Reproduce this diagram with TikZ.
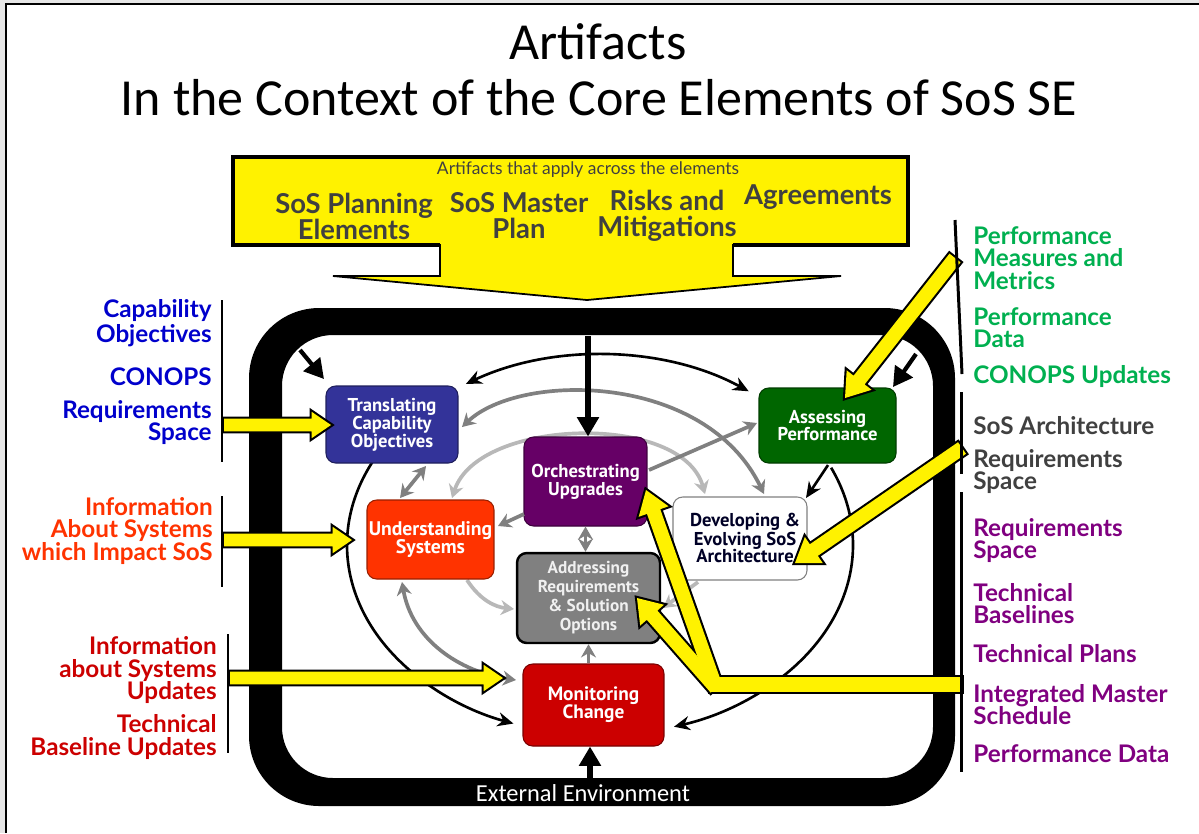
\documentclass[tikz,border=0pt]{standalone}
\usepackage{fontspec}
\setmainfont{Carlito}
\newfontfamily\lblfont{Lato}
\newfontfamily\boxfont{PT Sans}
\usetikzlibrary{calc,arrows.meta}
\definecolor{outgray}{HTML}{E6E6E6}
\definecolor{bantext}{HTML}{404040}
\definecolor{cblue}{HTML}{0000CC}
\definecolor{corange}{HTML}{FF3300}
\definecolor{cred}{HTML}{CC0000}
\definecolor{cgreen}{HTML}{00B050}
\definecolor{cgrey}{HTML}{404040}
\definecolor{cpurple}{HTML}{800080}
\definecolor{ftrans}{HTML}{333399}
\definecolor{fassess}{HTML}{006600}
\definecolor{forch}{HTML}{660066}
\definecolor{funder}{HTML}{FF3300}
\definecolor{faddr}{HTML}{808080}
\definecolor{fmon}{HTML}{CC0000}
\definecolor{gmid}{HTML}{808080}
\definecolor{glight}{HTML}{B8B8B8}
\newcommand\yarrow[6]{%
  \coordinate (yh) at ($(#3)!#6!(#2)$);
  \path[#1] ($(#2)!#4!90:(#3)$) -- ($(yh)!#4!90:(#3)$) -- ($(yh)!#5!90:(#3)$) -- (#3)
     -- ($(yh)!#5!-90:(#3)$) -- ($(yh)!#4!-90:(#3)$) -- ($(#2)!#4!-90:(#3)$) -- cycle;}
\newcommand\allyellow[1]{%
  \yarrow{#1}{yl1}{yl1t}{3.6pt}{7.5pt}{11pt}
  \yarrow{#1}{yl2}{yl2t}{3.6pt}{7.5pt}{11pt}
  \yarrow{#1}{yl3}{yl3t}{3.6pt}{7.5pt}{11pt}
  \yarrow{#1}{yr1}{yr1t}{4pt}{9pt}{13pt}
  \yarrow{#1}{yr2}{yr2t}{4pt}{9pt}{13pt}
  \path[#1] (710,-677) rectangle (962,-692);
  \yarrow{#1}{yj}{yj1t}{4pt}{9pt}{13pt}
  \yarrow{#1}{yj}{yj2t}{4pt}{9pt}{13pt}}
\begin{document}
\begin{tikzpicture}[x=0.02cm,y=0.02cm,
  yout/.style={draw=black,line width=2.4pt,line join=miter},
  yfill/.style={fill=yellow},
  boxbase/.style={rounded corners=5.5pt,align=center,inner sep=0pt,text=white,line width=0.6pt,
    font=\boxfont\bfseries\fontsize{10.6}{10.2}\selectfont},
  lbl/.style={inner sep=0pt,font=\lblfont\bfseries\fontsize{13.8}{12.8}\selectfont},
  lblL/.style={lbl,anchor=east,align=right},
  lblR/.style={lbl,anchor=west,align=left},
  bant/.style={inner sep=0pt,align=center,text=bantext,font=\lblfont\bfseries\fontsize{15.6}{14.8}\selectfont},
  blk/.style={line width=1.5pt,-{Stealth[length=9pt,width=8pt]}},
  thick arrow/.style={line width=2.4pt,-{Triangle[length=11pt,width=12pt]}},
  gm/.style={draw=gmid,line width=2.1pt,-{Stealth[length=7.5pt,width=8.5pt]}},
  gl/.style={draw=glight,line width=2.1pt,-{Stealth[length=7.5pt,width=8.5pt]}},
  bracket/.style={line width=1.7pt}]
\useasboundingbox (0,0) rectangle (1199,-833);
\fill[outgray] (0,0) rectangle (1199,-833);
\fill[white] (5,-3) rectangle (1199,-833);
\draw[line width=1.6pt] (6,-833) -- (6,-4) -- (1199,-4);
% title
\node[inner sep=0pt,font=\fontsize{29.6}{32}\selectfont] (t1) at (598,-42) {Artifacts};
\node[inner sep=0pt,font=\fontsize{29.6}{32}\selectfont] (t2) at (599,-98) {In the Context of the Core Elements of SoS SE};
% banner
\filldraw[fill=yellow,draw=black,line width=1pt] (233,-157) -- (908,-157) -- (908,-245) -- (733,-245) -- (733,-276)
  -- (841,-276) -- (587,-300) -- (333,-276) -- (440,-276) -- (440,-245) -- (233,-245) -- cycle;
\draw[line width=2pt] (440,-245) -- (233,-245) -- (233,-157) -- (908,-157) -- (908,-245) -- (733,-245);
\node[inner sep=0pt,text=bantext,font=\lblfont\fontsize{9.9}{11}\selectfont] (bt) at (588,-170) {Artifacts that apply across the elements};
\node[bant] (b1) at (354,-216) {SoS Planning\\Elements};
\node[bant] (b2) at (519,-216) {SoS Master\\Plan};
\node[bant] (b3) at (667,-216) {Risks and\\Mitigations};
\node[bant] (b4) at (818,-197) {Agreements};
% frame
\fill[black,even odd rule] {[rounded corners=40pt] (249,-308) rectangle (955,-806)} {[rounded corners=29pt] (282,-335) rectangle (933,-778)};
\node[inner sep=0pt,text=white,font=\fontsize{13.9}{15}\selectfont] (ext) at (583,-793) {External Environment};
% ellipse arcs
\coordinate (ec) at (600,-545);
\draw[blk,{Stealth[length=9pt,width=8pt]}-{Stealth[length=9pt,width=8pt]}] ($(ec)+(122:253 and 190)$) arc[start angle=122,end angle=54,x radius=253,y radius=190];
\draw[blk] ($(ec)+(154:253 and 190)$) arc[start angle=154,end angle=250,x radius=253,y radius=190];
\draw[blk] ($(ec)+(24:253 and 190)$) arc[start angle=24,end angle=-73,x radius=253,y radius=190];
% grey arcs
\draw[gl,{Stealth[length=7.5pt,width=8.5pt]}-{Stealth[length=7.5pt,width=8.5pt]}] (452,-498) .. controls (478,-418) and (682,-412) .. (705,-494);
\draw[gm,{Stealth[length=7.5pt,width=8.5pt]}-{Stealth[length=7.5pt,width=8.5pt]}] (462,-427) .. controls (520,-372) and (705,-372) .. (764,-494);
\draw[gm,{Stealth[length=7.5pt,width=8.5pt]}-{Stealth[length=7.5pt,width=8.5pt]}] (402,-582) .. controls (412,-640) and (460,-672) .. (516,-680);
\draw[gl] (467,-580) .. controls (480,-600) and (495,-607) .. (514,-609);
\draw[gl] (698,-582) -- (663,-608);
% boxes
\node[boxbase,fill=ftrans,draw=ftrans!60!black,minimum width=2.64cm,minimum height=1.54cm] (trans) at (392,-424.5) {Translating\\Capability\\Objectives};
\node[boxbase,fill=fassess,draw=fassess!60!black,minimum width=2.74cm,minimum height=1.50cm] (assess) at (827.5,-425.5) {Assessing\\Performance};
\node[boxbase,fill=forch,draw=forch!60!black,minimum width=2.46cm,minimum height=1.78cm] (orch) at (585.5,-481.5) {Orchestrating\\Upgrades};
\node[boxbase,fill=funder,draw=funder!60!black,minimum width=2.54cm,minimum height=1.58cm,font=\boxfont\bfseries\fontsize{11.2}{10.6}\selectfont] (under) at (430.5,-539.5) {Understanding\\Systems};
\node[boxbase,fill=white,draw=gray,text=black!80!blue,minimum width=2.68cm,minimum height=1.66cm] (devel) at (740,-538.5) {};
\node[inner sep=0pt,align=center,text=black!85!blue,font=\boxfont\bfseries\fontsize{10.6}{9.8}\selectfont] (develt) at (745,-538) {Developing \&\\Evolving SoS\\Architecture};
\node[boxbase,fill=faddr,draw=black,line width=1.4pt,text=white!94!black,minimum width=2.86cm,minimum height=1.80cm,font=\boxfont\bfseries\fontsize{9.8}{10.8}\selectfont] (addr) at (588.5,-598) {Addressing\\Requirements\\\& Solution\\Options};
\node[boxbase,fill=fmon,draw=fmon!60!black,minimum width=2.82cm,minimum height=1.64cm,font=\boxfont\bfseries\fontsize{11}{10.4}\selectfont] (mon) at (593.5,-705) {Monitoring\\Change};
% grey straight arrows
\draw[gm,{Stealth[length=7.5pt,width=8.5pt]}-{Stealth[length=7.5pt,width=8.5pt]}] (426,-466) -- (400,-498);
\draw[gm] (524,-514) -- (498,-526);
\draw[gm] (649,-470) -- (757,-423);
\draw[gm,{Stealth[length=7.5pt,width=8.5pt]}-{Stealth[length=7.5pt,width=8.5pt]}] (orch.south) -- (orch.south |- addr.north);
\draw[gm] (mon.north -| addr.south) -- (addr.south);
% black arrows
\draw[blk] (828,-465) -- (806,-498);
\coordinate (ftop) at (588,-336);
\coordinate (fbot) at (590,-778);
\coordinate (ftl) at (300,-350);
\coordinate (ftr) at (916,-354);
\draw[thick arrow,line width=3pt] (ftop) -- (ftop |- orch.north);
\draw[thick arrow,line width=3pt] (fbot) -- (fbot |- mon.south);
\draw[thick arrow] (ftl) -- (324,-379);
\draw[thick arrow] (ftr) -- (893,-387);
% yellow arrows
\coordinate (yl1) at (224,-425); \coordinate (yl1t) at (331,-425);
\coordinate (yl2) at (224,-540); \coordinate (yl2t) at (352,-540);
\coordinate (yl3) at (230,-678); \coordinate (yl3t) at (503,-678);
\coordinate (yr1) at (955,-258); \coordinate (yr1t) at (845,-398);
\coordinate (yr2) at (962,-448); \coordinate (yr2t) at (795,-563);
\coordinate (yj) at (716,-688); \coordinate (yj1t) at (646,-490); \coordinate (yj2t) at (637,-598);
\allyellow{yout}
\allyellow{yfill}
% brackets
\draw[bracket] (222,-300) -- (222,-462);
\draw[bracket] (222,-496) -- (222,-587);
\draw[bracket] (228,-634) -- (228,-753);
\draw[bracket] (955,-220) -- (962,-374);
\draw[bracket] (961,-392) -- (961,-474);
\draw[bracket] (961,-492) -- (961,-772);
% left labels
\node[lblL,text=cblue,font=\lblfont\bfseries\fontsize{13.8}{14.2}\selectfont] (l1) at (212,-323.5) {Capability\\Objectives};
\node[lblL,text=cblue] (l2) at (212,-377) {CONOPS};
\node[lblL,text=cblue] (l3) at (212,-422.5) {Requirements\\Space};
\node[lblL,text=corange] (l4) at (213,-531) {Information\\About Systems\\which Impact SoS};
\node[lblL,text=cred] (l5) at (217,-670) {Information\\about Systems\\Updates};
\node[lblL,text=cred] (l6) at (217,-737) {Technical\\Baseline Updates};
% right labels
\node[lblR,text=cgreen] (r1) at (973,-258) {Performance\\Measures and\\Metrics};
\node[lblR,text=cgreen] (r2) at (973,-327.5) {Performance\\Data};
\node[lblR,text=cgreen] (r3) at (973,-377) {CONOPS Updates};
\node[lblR,text=cgrey] (r4) at (973,-426) {SoS Architecture};
\node[lblR,text=cgrey] (r5) at (973,-471.5) {Requirements\\Space};
\node[lblR,text=cpurple] (r6) at (973,-540.5) {Requirements\\Space};
\node[lblR,text=cpurple] (r7) at (973,-603.5) {Technical\\Baselines};
\node[lblR,text=cpurple] (r8) at (973,-654) {Technical Plans};
\node[lblR,text=cpurple] (r9) at (973,-704.5) {Integrated Master\\Schedule};
\node[lblR,text=cpurple] (r10) at (973,-754) {Performance Data};
\end{tikzpicture}
\end{document}
